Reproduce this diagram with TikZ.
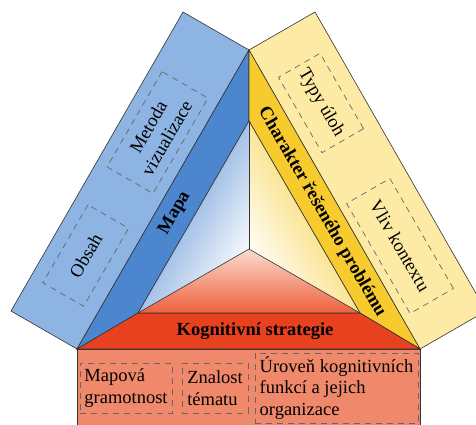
\documentclass[tikz,border=0pt]{standalone}
\usepackage{fontspec}
\setmainfont{Liberation Serif}
\definecolor{lightblue}{HTML}{8DB4E2}
\definecolor{bandblue}{HTML}{4C86CF}
\definecolor{lightyellow}{HTML}{FDEBA5}
\definecolor{bandyellow}{HTML}{F7CB2D}
\definecolor{bandred}{HTML}{E8411F}
\definecolor{salmon}{HTML}{F0896B}
\definecolor{redlow}{HTML}{EE603C}
\definecolor{redhigh}{HTML}{FADCD0}
\begin{document}
\begin{tikzpicture}[x=1pt,y=-1pt,
  outline/.style={draw=black!80, line width=0.6pt},
  dbox/.style={draw=black!60, dash pattern=on 6pt off 5pt, line width=0.7pt, inner sep=3pt, font=\fontsize{18.5}{21.5}\selectfont},
  bandlabel/.style={font=\bfseries\fontsize{18.5}{21.5}\selectfont, inner sep=0pt}
]
\useasboundingbox (0,0) rectangle (476,425);
\clip (0,0) rectangle (476,425);
% vertices
\coordinate (A) at (249,50);
\coordinate (B) at (77,349);
\coordinate (D) at (420,349);
\coordinate (P1) at (183,12);
\coordinate (P2) at (11,311);
\coordinate (Q1) at (315,12);
\coordinate (Q2) at (486,311);
\coordinate (T) at (249,121);
\coordinate (L) at (138,313);
\coordinate (R) at (360,313);
\coordinate (C) at (249,249);
\coordinate (BL) at (77,440);
\coordinate (BR) at (420,440);
% outer panels
\filldraw[outline, fill=lightblue] (A) -- (P1) -- (P2) -- (B) -- cycle;
\filldraw[outline, fill=lightyellow] (A) -- (Q1) -- (Q2) -- (D) -- cycle;
\filldraw[outline, fill=salmon] (B) -- (D) -- (BR) -- (BL) -- cycle;
% bands
\filldraw[outline, fill=bandblue] (A) -- (T) -- (L) -- (B) -- cycle;
\filldraw[outline, fill=bandyellow] (A) -- (D) -- (R) -- (T) -- cycle;
\filldraw[outline, fill=bandred] (B) -- (D) -- (R) -- (L) -- cycle;
% inner gradients
\shade[top color=bandblue, bottom color=white, shading angle=60] (L) -- (T) -- (C) -- cycle;
\shade[top color=bandyellow, bottom color=white, shading angle=-60] (T) -- (R) -- (C) -- cycle;
\shade[top color=redhigh, bottom color=redlow] (L) -- (R) -- (C) -- cycle;
\draw[outline] (L) -- (T) -- (R) -- cycle;
\draw[outline] (C) -- (L);
\draw[outline] (C) -- (R);
\draw[outline] (C) -- (T);
% band labels
\node[bandlabel, rotate=60] (mapa) at (175,213) {Mapa};
\node[bandlabel, rotate=-60] (char) at (322,212) {Charakter řešeného problému};
\node[bandlabel] (kog) at (255,331) {Kognitivní strategie};
% dashed boxes
\node[dbox, rotate=60, minimum width=110pt, minimum height=53pt, align=center] (metoda) at (157.5,132.5) {Metoda\\vizualizace};
\node[dbox, rotate=60, minimum width=90pt, minimum height=47pt] (obsah) at (85.75,255.5) {Obsah};
\node[dbox, rotate=-60, minimum width=87pt, minimum height=48pt] (typy) at (321,103) {Typy úloh};
\node[dbox, rotate=-60, minimum width=127pt, minimum height=50pt] (vliv) at (400,246) {Vliv kontextu};
\node[dbox, minimum width=92pt, minimum height=50pt, align=left] (mapova) at (126,388) {Mapová\\gramotnost};
\node[dbox, minimum width=66pt, minimum height=50pt, align=left] (znalost) at (215,388) {Znalost\\tématu};
\node[dbox, minimum width=163pt, minimum height=70pt, align=left] (uroven) at (336.5,388) {Úroveň kognitivních\\funkcí a jejich\\organizace};
\end{tikzpicture}
\end{document}
